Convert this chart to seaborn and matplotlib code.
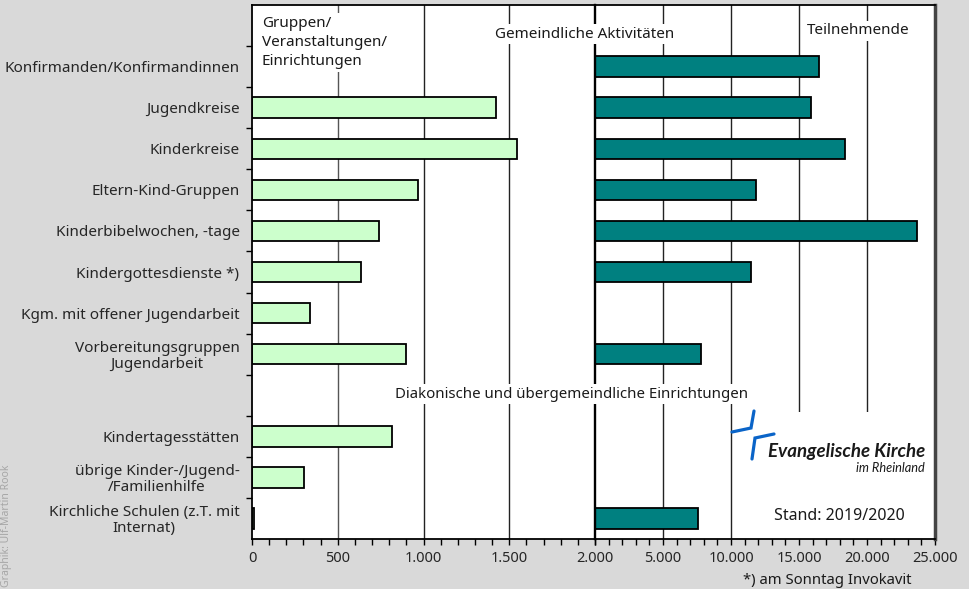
import matplotlib
matplotlib.use("Agg")
import matplotlib.pyplot as plt
import numpy as np
import pandas as pd
import seaborn as sns
from matplotlib.lines import Line2D
from matplotlib.patches import Rectangle
from matplotlib.ticker import MultipleLocator

# data
categories = [
    "Konfirmanden/Konfirmandinnen",
    "Jugendkreise",
    "Kinderkreise",
    "Eltern-Kind-Gruppen",
    "Kinderbibelwochen, -tage",
    "Kindergottesdienste *)",
    "Kgm. mit offener Jugendarbeit",
    "Vorbereitungsgruppen\nJugendarbeit",
    "Kindertagesstätten",
    "übrige Kinder-/Jugend-\n/Familienhilfe",
    "Kirchliche Schulen (z.T. mit\nInternat)",
]
groups = [np.nan, 1425, 1548, 970, 743, 634, 338, 900, 815, 303, 13]
participants = [16450, 15860, 18360, 11860, 23650, 11470, np.nan, 7770, np.nan, np.nan, 7600]

left_ticks = [0, 500, 1000, 1500, 2000]
left_ticklabels = ["0", "500", "1.000", "1.500", "2.000"]
right_ticks = [5000, 10000, 15000, 20000, 25000]
right_ticklabels = ["5.000", "10.000", "15.000", "20.000", "25.000"]

# row order: header row on top, gap row before the diaconal block
order = ["_hdr"] + categories[:8] + ["_gap"] + categories[8:]
shown = ["" if c.startswith("_") else c for c in order]

df = pd.DataFrame({"category": categories, "groups": groups, "participants": participants})

W, H = 970, 589


def fx(px):
    return px / W


def fy(py):
    return 1 - py / H


sns.set_theme(style="white")
plt.rcParams["font.family"] = ["Noto Sans", "DejaVu Sans"]
plt.rcParams["text.color"] = "#1a1a1a"

FS = 11

fig = plt.figure(figsize=(9.7, 5.89), dpi=100, facecolor="#d9d9d9")
top_px, bot_px = 5, 539
ax_l = fig.add_axes([fx(252), fy(bot_px), fx(595) - fx(252), fy(top_px) - fy(bot_px)])
ax_r = fig.add_axes([fx(595), fy(bot_px), fx(935) - fx(595), fy(top_px) - fy(bot_px)])

sns.barplot(data=df.dropna(subset=["groups"]), x="groups", y="category", order=order,
            orient="h", color="#ccffcc", saturation=1, edgecolor="black", linewidth=1.3,
            width=0.5, ax=ax_l, zorder=2)
sns.barplot(data=df.dropna(subset=["participants"]), x="participants", y="category", order=order,
            orient="h", color="#008080", saturation=1, edgecolor="black", linewidth=1.3,
            width=0.5, ax=ax_r, zorder=2)

for ax in (ax_l, ax_r):
    ax.set_facecolor("white")
    ax.set_ylim(len(order) - 0.5, -0.5)
    ax.set_xlabel("")
    ax.set_ylabel("")
    ax.set_axisbelow(True)
    ax.grid(False)
    for s in ax.spines.values():
        s.set_color("black")
        s.set_linewidth(1.3)
    ax.tick_params(axis="x", which="both", direction="out", length=4, width=1,
                   color="black", labelsize=FS - 0.5, pad=5, bottom=True)

# left panel: groups
ax_l.set_xlim(0, 2000)
ax_l.set_xticks(left_ticks)
ax_l.set_xticklabels(left_ticklabels)
ax_l.xaxis.set_minor_locator(MultipleLocator(100))
ax_l.spines["right"].set_visible(False)
ax_l.set_yticks(range(len(order)))
ax_l.set_yticklabels(shown, fontsize=FS)
for t in ax_l.get_yticklabels():
    t.set_multialignment("center")
    t.set_linespacing(1.05)
ax_l.set_yticks(np.arange(0.5, len(order) - 0.5), minor=True)
ax_l.tick_params(axis="y", which="major", length=0, pad=9)
ax_l.tick_params(axis="y", which="minor", left=True, length=4, width=1, color="black")
for v in left_ticks[1:-1]:
    ax_l.axvline(v, color="#555555" if v == 500 else "#222222", lw=1, zorder=0.5)

# right panel: participants
ax_r.set_xlim(0, 25000)
ax_r.set_xticks(right_ticks)
ax_r.set_xticklabels(right_ticklabels)
ax_r.xaxis.set_minor_locator(MultipleLocator(1000))
ax_r.set_yticks([])
ax_r.spines["left"].set_linewidth(1.7)
ax_r.spines["right"].set_color("#444444")
ax_r.spines["right"].set_linewidth(2.5)
for v in right_ticks[:-1]:
    ax_r.axvline(v, color="#222222", lw=1, zorder=0.5)

# white area behind the logo and the date
ax_r.add_patch(Rectangle(((745 - 595) / 340, 0), 1 - (745 - 595) / 340, (bot_px - 412) / (bot_px - top_px),
                         transform=ax_r.transAxes, facecolor="white", edgecolor="none", zorder=1))

box = dict(facecolor="white", edgecolor="none", pad=2)
fig.text(fx(262), fy(16), "Gruppen/\nVeranstaltungen/\nEinrichtungen", ha="left", va="top",
         fontsize=FS, linespacing=1.38, bbox=box)
fig.text(fx(585), fy(34), "Gemeindliche Aktivitäten", ha="center", va="center", fontsize=FS, bbox=box)
fig.text(fx(858), fy(31), "Teilnehmende", ha="center", va="center", fontsize=FS, bbox=box)
fig.text(fx(572), fy(394), "Diakonische und übergemeindliche Einrichtungen", ha="center", va="center",
         fontsize=10.8, bbox=box)
fig.text(fx(839), fy(516), "Stand: 2019/2020", ha="center", va="center", fontsize=11.5)
fig.text(fx(912), fy(580), "*) am Sonntag Invokavit", ha="right", va="center", fontsize=10.7)
fig.text(fx(7), 0.003, "Graphik: Ulf-Martin Rook", rotation=90, ha="center", va="bottom",
         fontsize=7.5, color="#a6a6a6")

# church logo
logo_blue = "#0a64c8"
fig.add_artist(Line2D([fx(732), fx(751), fx(754)], [fy(432), fy(428), fy(411)],
                      color=logo_blue, lw=2.3, solid_joinstyle="miter"))
fig.add_artist(Line2D([fx(752), fx(755), fx(774)], [fy(459), fy(438), fy(434)],
                      color=logo_blue, lw=2.3, solid_joinstyle="miter"))
fig.text(fx(925), fy(452), "Evangelische Kirche", ha="right", va="center", fontsize=13.5,
         fontweight="bold", fontstyle="italic", color="#1a1a1a",
         family=["Lato", "Liberation Sans", "DejaVu Sans"])
fig.text(fx(925), fy(468), "im Rheinland", ha="right", va="center", fontsize=9.2,
         fontstyle="italic", color="#1a1a1a", family=["Lato", "Liberation Sans", "DejaVu Sans"])

fig.savefig("out.png", dpi=100, facecolor=fig.get_facecolor())
plt.close(fig)
